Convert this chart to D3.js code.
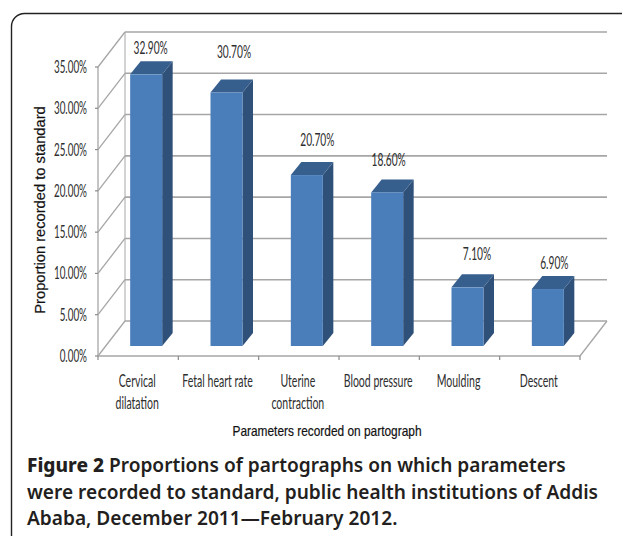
<!DOCTYPE html>
<html>
<head>
<meta charset="utf-8">
<script src="https://cdn.jsdelivr.net/npm/d3@7/dist/d3.min.js"></script>
<style>
  html, body { margin: 0; padding: 0; background: #fff; overflow: hidden; }
  svg { display: block; }
  .tick-text { font-family: Lato, "Liberation Sans", sans-serif; fill: #2e2e2e; font-size: 17px; }
  .axis-title { font-family: "Liberation Sans", sans-serif; fill: #111; font-size: 14px; stroke: #111; stroke-width: 0.2px; }
  .caption { font-family: "Noto Sans", sans-serif; font-size: 19.1px; font-weight: 600; fill: #231f20; }
  .caption .lead { font-weight: 800; }
</style>
</head>
<body>
<svg id="chart" width="622" height="536"></svg>
<script>
const categories = [["Cervical", "dilatation"], ["Fetal heart rate"], ["Uterine", "contraction"], ["Blood pressure"], ["Moulding"], ["Descent"]];
const shares = [32.9, 30.7, 20.7, 18.6, 7.1, 6.9];
const shareLabels = ["32.90%", "30.70%", "20.70%", "18.60%", "7.10%", "6.90%"];
const yTicks = [0, 5, 10, 15, 20, 25, 30, 35];
const xTitle = "Parameters recorded on partograph";
const yTitle = "Proportion recorded to standard";
const captionLines = [
  ["Figure 2", " Proportions of partographs on which parameters"],
  ["", "were recorded to standard, public health institutions of Addis"],
  ["", "Ababa, December 2011\u2014February 2012."]
];

const svg = d3.select("#chart");

// Card frame; its right and bottom edges run off the page
svg.append("rect").attr("x", 11.5).attr("y", 13.5).attr("width", 660).attr("height", 540)
  .attr("rx", 13).attr("fill", "#fff").attr("stroke", "#222").attr("stroke-width", 1.4);

// Front plane of the 3D plot
const x = d3.scaleBand().domain(d3.range(categories.length)).range([98, 580]);
const y = d3.scaleLinear().domain([0, 35]).range([356, 67]);

// Oblique projection: wall depth, bar inset from the floor edge, bar depth
const wall = { dx: 27, dy: -35 };
const inset = { dx: 8, dy: -10 };
const barDepth = { dx: 10.5, dy: -13 };
const barWidth = 32;

const gridColor = "#a6a6a6";
const plot = svg.append("g");

// Condensed labels: glyphs are narrowed horizontally around their anchor
const condensed = (parent, cls, px, py, str, anchor, squeeze) =>
  parent.append("text").attr("class", cls).attr("text-anchor", anchor)
    .attr("transform", `translate(${px},${py}) scale(${squeeze},1)`).text(str);

// Back-wall gridlines, wall diagonals and the floor
yTicks.forEach(t => {
  plot.append("line")
    .attr("x1", x.range()[0] + wall.dx).attr("x2", x.range()[1] + wall.dx)
    .attr("y1", y(t) + wall.dy).attr("y2", y(t) + wall.dy)
    .attr("stroke", gridColor).attr("stroke-width", 1.6);
  plot.append("line")
    .attr("x1", x.range()[0]).attr("x2", x.range()[0] + wall.dx)
    .attr("y1", y(t)).attr("y2", y(t) + wall.dy)
    .attr("stroke", gridColor).attr("stroke-width", 1.3);
});
plot.append("line")
  .attr("x1", x.range()[1]).attr("x2", x.range()[1] + wall.dx)
  .attr("y1", y(0)).attr("y2", y(0) + wall.dy)
  .attr("stroke", gridColor).attr("stroke-width", 1.3);
plot.append("line")
  .attr("x1", x.range()[0] + wall.dx).attr("x2", x.range()[0] + wall.dx)
  .attr("y1", y(0) + wall.dy).attr("y2", y(35) + wall.dy)
  .attr("stroke", gridColor).attr("stroke-width", 1);

// Axes on the front plane
plot.append("line").attr("x1", x.range()[0]).attr("x2", x.range()[1])
  .attr("y1", y(0)).attr("y2", y(0)).attr("stroke", gridColor).attr("stroke-width", 1.6);
plot.append("line").attr("x1", x.range()[0]).attr("x2", x.range()[0])
  .attr("y1", y(0)).attr("y2", y(35)).attr("stroke", gridColor).attr("stroke-width", 1.3);
yTicks.forEach(t => {
  plot.append("line").attr("x1", x.range()[0] - 3).attr("x2", x.range()[0])
    .attr("y1", y(t)).attr("y2", y(t)).attr("stroke", "#8a8a8a").attr("stroke-width", 1.2);
  condensed(plot, "tick-text", 87, y(t) + 6, t.toFixed(2) + "%", "end", 0.58);
});
d3.range(categories.length + 1).forEach(i => {
  const tx = i < categories.length ? x(i) : x.range()[1];
  plot.append("line").attr("x1", tx).attr("x2", tx)
    .attr("y1", y(0)).attr("y2", y(0) + 4).attr("stroke", "#8a8a8a").attr("stroke-width", 1.2);
});

// Bars: side, top and front faces
const bars = svg.append("g").selectAll("g").data(shares).join("g");
const polygon = pts => pts.map(p => p.join(",")).join(" ");
const left = i => x(i) + (x.bandwidth() - barWidth) / 2 + inset.dx;
const base = y(0) + inset.dy;
const topY = d => y(d) + inset.dy;

bars.append("polygon").attr("fill", "#2f5079").attr("points", (d, i) => {
  const l = left(i) + barWidth;
  return polygon([[l, topY(d)], [l + barDepth.dx, topY(d) + barDepth.dy],
    [l + barDepth.dx, base + barDepth.dy], [l, base]]);
});
bars.append("polygon").attr("fill", "#375f8e").attr("points", (d, i) => {
  const l = left(i);
  return polygon([[l, topY(d)], [l + barDepth.dx, topY(d) + barDepth.dy],
    [l + barWidth + barDepth.dx, topY(d) + barDepth.dy], [l + barWidth, topY(d)]]);
});
bars.append("rect").attr("fill", "#4a7ebb")
  .attr("x", (d, i) => left(i)).attr("width", barWidth)
  .attr("y", d => topY(d)).attr("height", d => base - topY(d));

// Value labels sit at a hand-tuned distance above each bar
const labelLift = [20.4, 34.5, 29, 26.4, 27.4, 20];
const labelShift = [-6, -3, 0, -9, -1, -4];
shares.forEach((d, i) => {
  condensed(svg, "tick-text", left(i) + barWidth / 2 + barDepth.dx + labelShift[i],
    topY(d) - labelLift[i], shareLabels[i], "middle", 0.6);
});

// Category labels
categories.forEach((lines, i) => {
  lines.forEach((line, j) => {
    condensed(svg, "tick-text", x(i) + x.bandwidth() / 2 - 1, 387 + j * 22, line, "middle", 0.62);
  });
});

// Axis titles
condensed(svg, "axis-title", 327, 436, xTitle, "middle", 0.85);
svg.append("text").attr("class", "axis-title").attr("text-anchor", "middle")
  .attr("transform", "translate(45,210) rotate(-90) scale(1.05,1)").text(yTitle);

// Caption
captionLines.forEach((line, i) => {
  const t = svg.append("text").attr("class", "caption").attr("x", 27).attr("y", 472 + i * 26.5);
  if (line[0]) t.append("tspan").attr("class", "lead").text(line[0]);
  t.append("tspan").text(line[1]);
});
</script>
</body>
</html>
